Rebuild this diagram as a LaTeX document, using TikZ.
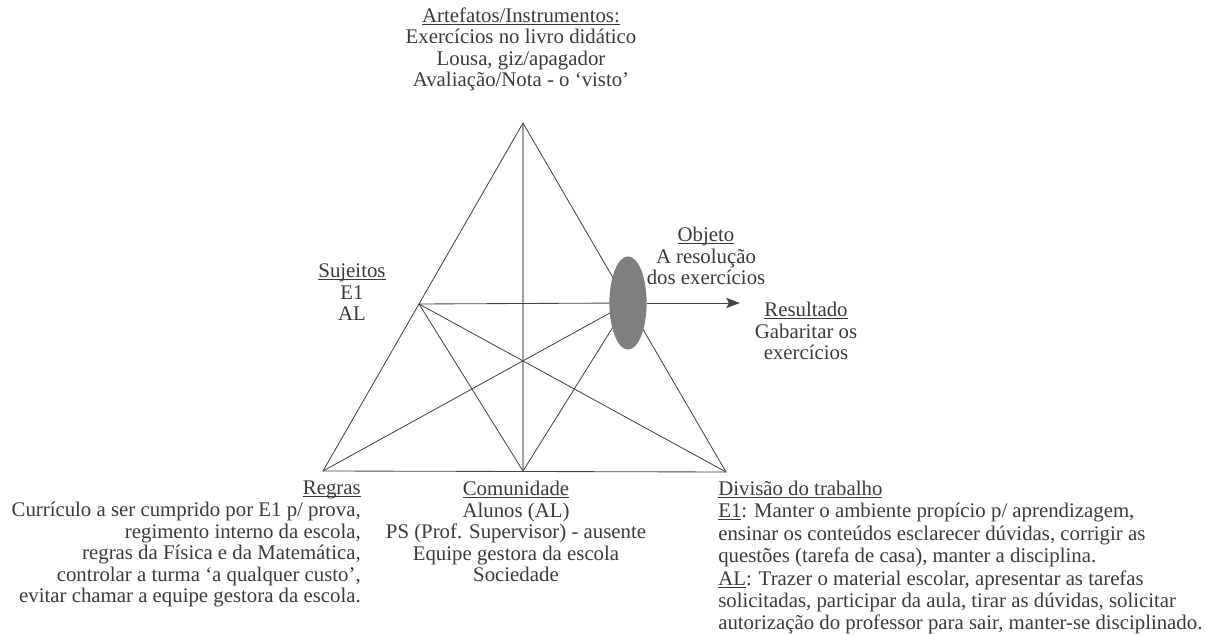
\documentclass[tikz,border=0pt]{standalone}
\usepackage{fontspec}
\setmainfont{Liberation Serif}
\usetikzlibrary{arrows.meta, shapes.geometric}
\definecolor{ink}{HTML}{3A3A3A}
\definecolor{edge}{HTML}{454545}
\definecolor{axis}{HTML}{A3A3A3}
\definecolor{objFill}{HTML}{7F7F7F}
\newcommand{\ulabel}[1]{\underline{\smash{#1}}}
\tikzset{
  % text blocks round the triangle (anchored on their last baseline)
  lbl/.style={font=\fontsize{14.8}{15.4}\selectfont, text=ink, inner sep=0pt},
  lblw/.style={lbl, font=\fontsize{14.8}{16}\selectfont},
  % triangle lines
  E/.style={draw=edge, line width=0.6pt},
  axisline/.style={draw=axis, line width=1.2pt},
  A/.style={draw=edge, line width=0.7pt, -{Stealth[length=3.4mm,width=2.5mm,inset=0.6mm]}},
}

\begin{document}
\begin{tikzpicture}[x=0.025cm, y=-0.025cm]
\useasboundingbox (0,0) rectangle (1206,635);

% =====================================================================
% CORNERS OF THE ACTIVITY TRIANGLE
% =====================================================================
\coordinate (inst) at (523,123);
\coordinate (regr) at (323,471);
\coordinate (comu) at (523,471);
\coordinate (divi) at (726,472);
\coordinate (suj)  at (419,304);
\coordinate (obj)  at (628,303);
\coordinate (res)  at (740,303);

% ── lines ────────────────────────────────────────────────────────────
\draw[axisline] (inst) -- (comu);
\draw[E] (inst) -- (regr) -- (divi) -- cycle;
\draw[E] (suj) -- (obj);
\draw[E] (suj) -- (comu);
\draw[E] (suj) -- (divi);
\draw[E] (obj) -- (comu);
\draw[E] (obj) -- (regr);

\node[ellipse, fill=objFill, minimum width=0.93cm, minimum height=2.33cm,
      inner sep=0pt] (objE) at (obj) {};
\draw[A] (objE.east) -- (res);

% =====================================================================
% LABELS
% =====================================================================
\node[lbl, align=center, anchor=base] (artef) at (521,87) {
  \ulabel{Artefatos/Instrumentos:}\\
  Exercícios no livro didático\\
  Lousa, giz/apagador\\
  Avaliação/Nota - o ‘visto’};

\node[lbl, align=center, anchor=base] (objeto) at (706,285) {
  \ulabel{Objeto}\\A resolução\\dos exercícios};

\node[lbl, align=center, anchor=base] (sujeitos) at (352,321) {
  \ulabel{Sujeitos}\\E1\\AL};

\node[lbl, align=center, anchor=base] (result) at (806,360) {
  \ulabel{Resultado}\\Gabaritar os\\exercícios};

\node[lbl, align=right, anchor=base east] (regras) at (361,603) {
  \ulabel{Regras}\\
  Currículo a ser cumprido por E1 p/ prova,\\
  regimento interno da escola,\\
  regras da Física e da Matemática,\\
  controlar a turma ‘a qualquer custo’,\\
  evitar chamar a equipe gestora da escola.};

\node[lbl, align=center, anchor=base] (comunid) at (516,582) {
  \ulabel{Comunidade}\\
  Alunos (AL)\\
  PS (Prof. Supervisor) - ausente\\
  Equipe gestora da escola\\
  Sociedade};

\node[lblw, align=left, anchor=base west] (divisao) at (718,630) {
  \ulabel{Divisão do trabalho}\\
  \ulabel{E1}: Manter o ambiente propício p/ aprendizagem,\\
  ensinar os conteúdos esclarecer dúvidas, corrigir as\\
  questões (tarefa de casa), manter a disciplina.\\
  \ulabel{AL}: Trazer o material escolar, apresentar as tarefas\\
  solicitadas, participar da aula, tirar as dúvidas, solicitar\\
  autorização do professor para sair, manter-se disciplinado.};

\end{tikzpicture}
\end{document}
